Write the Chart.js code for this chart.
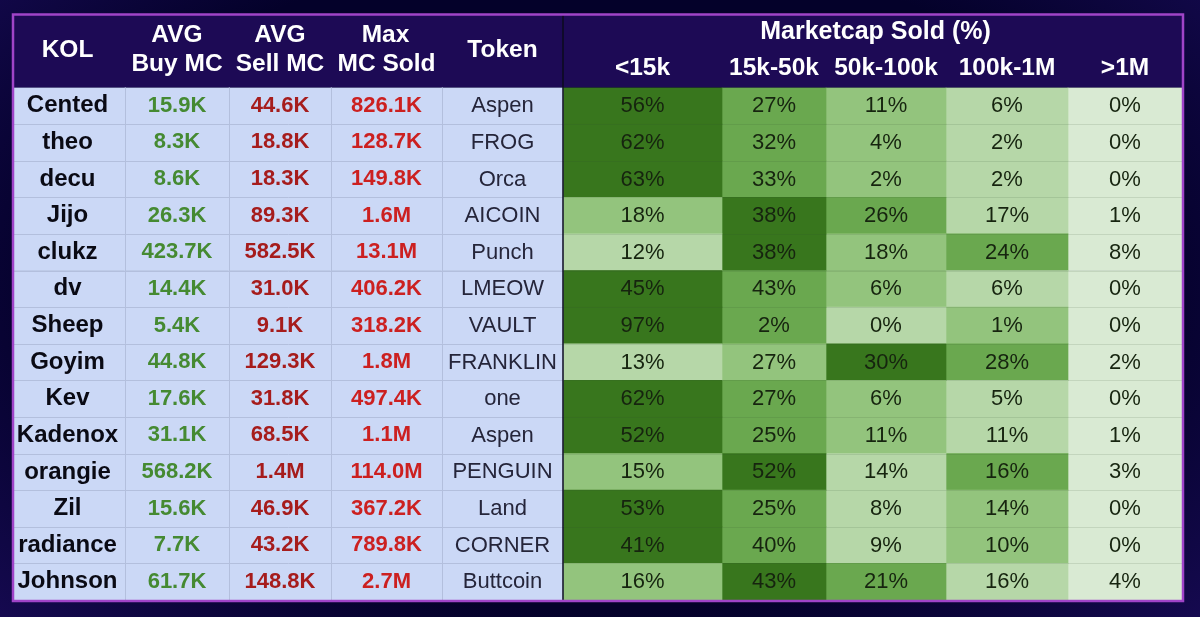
<!DOCTYPE html>
<html><head><meta charset="utf-8">
<script src="https://cdn.jsdelivr.net/npm/chart.js@4"></script>
<style>
html,body{margin:0;padding:0;width:1200px;height:617px;overflow:hidden;
background:radial-gradient(ellipse 75% 90% at 50% 45%,#04012a 60%,#120849 85%,#1b0b5c 100%);}
canvas{display:block;filter:blur(0.5px);}
</style></head><body>
<canvas id="c" width="1200" height="617"></canvas>
<script>
const kols=['Cented','theo','decu','Jijo','clukz','dv','Sheep','Goyim','Kev','Kadenox','orangie','Zil','radiance','Johnson'];
const avgBuyMC=['15.9K','8.3K','8.6K','26.3K','423.7K','14.4K','5.4K','44.8K','17.6K','31.1K','568.2K','15.6K','7.7K','61.7K'];
const avgSellMC=['44.6K','18.8K','18.3K','89.3K','582.5K','31.0K','9.1K','129.3K','31.8K','68.5K','1.4M','46.9K','43.2K','148.8K'];
const maxMCSold=['826.1K','128.7K','149.8K','1.6M','13.1M','406.2K','318.2K','1.8M','497.4K','1.1M','114.0M','367.2K','789.8K','2.7M'];
const tokens=['Aspen','FROG','Orca','AICOIN','Punch','LMEOW','VAULT','FRANKLIN','one','Aspen','PENGUIN','Land','CORNER','Buttcoin'];
const soldUnder15k=[56,62,63,18,12,45,97,13,62,52,15,53,41,16];
const sold15kTo50k=[27,32,33,38,38,43,2,27,27,25,52,25,40,43];
const sold50kTo100k=[11,4,2,26,18,6,0,30,6,11,14,8,9,21];
const sold100kTo1M=[6,2,2,17,24,6,1,28,5,11,16,14,10,16];
const soldOver1M=[0,0,0,1,8,0,0,2,0,1,3,0,0,4];
const binLabels=['<15k','15k-50k','50k-100k','100k-1M','>1M'];
const infoHeaders=[['KOL'],['AVG','Buy MC'],['AVG','Sell MC'],['Max','MC Sold'],['Token']];
const groupTitle='Marketcap Sold (%)';

/* layout of the table on the x scale */
const edges=[14,125,229,331,442,563,722,826,946,1068,1182];
const greens=['#38761d','#6aa84f','#93c47d','#b6d7a8','#d9ead3'];
const bins=[soldUnder15k,sold15kTo50k,sold50kTo100k,sold100kTo1M,soldOver1M];

/* each row's cells are shaded by their rank within the row */
function rankShade(col,row){
  const vals=bins.map(b=>b[row]);
  const order=vals.map((v,i)=>[v,i]).sort((a,b)=>b[0]-a[0]||a[1]-b[1]).map(p=>p[1]);
  return greens[order.indexOf(col)];
}
const span=i=>kols.map(()=>[edges[i],edges[i+1]]);
const datasets=[];
for(let i=0;i<5;i++) datasets.push({data:span(i),backgroundColor:'#cbd8f6',barPercentage:1,categoryPercentage:1,grouped:false,borderWidth:0});
bins.forEach((b,c)=>datasets.push({data:span(5+c),backgroundColor:kols.map((_,r)=>rankShade(c,r)),barPercentage:1,categoryPercentage:1,grouped:false,borderWidth:0}));

const FONT='"Liberation Sans", Arial, sans-serif';
const tablePlugin={id:'table',
  beforeDatasetsDraw(ch){
    const c=ch.ctx,a=ch.chartArea;
    c.save();c.fillStyle='#1d0a55';
    c.fillRect(a.left,15,a.right-a.left,a.top-15);c.restore();
  },
  afterDatasetsDraw(ch){
    const c=ch.ctx,a=ch.chartArea,x=ch.scales.x,y=ch.scales.y;
    const cx=i=>(x.getPixelForValue(edges[i])+x.getPixelForValue(edges[i+1]))/2;
    c.save();
    /* row separators */
    const split=x.getPixelForValue(edges[5]);
    for(let r=0;r<kols.length-1;r++){
      const yy=Math.round((y.getPixelForValue(r)+y.getPixelForValue(r+1))/2)+0.5;
      c.lineWidth=1;
      c.strokeStyle='#b3bfdd';c.beginPath();c.moveTo(a.left,yy);c.lineTo(split,yy);c.stroke();
      c.strokeStyle='rgba(50,80,50,0.13)';c.beginPath();c.moveTo(split,yy);c.lineTo(a.right,yy);c.stroke();
    }
    /* column separators */
    for(let i=1;i<5;i++){
      const xx=Math.round(x.getPixelForValue(edges[i]))+0.5;
      c.strokeStyle='#b3bfdd';c.lineWidth=1;c.beginPath();c.moveTo(xx,a.top);c.lineTo(xx,a.bottom);c.stroke();
    }
    c.strokeStyle='#0b0b1e';c.lineWidth=1.5;c.beginPath();c.moveTo(split,15);c.lineTo(split,a.bottom);c.stroke();
    /* outer frame */
    c.strokeStyle='#a044c8';c.lineWidth=2.5;c.strokeRect(a.left-1,14.5,a.right-a.left+2,a.bottom-14.5+1);
    /* header */
    c.textAlign='center';c.textBaseline='middle';c.fillStyle='#fff';c.font='bold 24.5px '+FONT;
    infoHeaders.forEach((h,i)=>{
      if(h.length===1) c.fillText(h[0],cx(i)-(i===0?2:0),50);
      else {c.fillText(h[0],cx(i)-(i===3?1:0),35);c.fillText(h[1],cx(i),64.5);}
    });
    c.font='bold 25px '+FONT;
    c.fillText(groupTitle,(x.getPixelForValue(edges[5])+x.getPixelForValue(edges[10]))/2+3,32);
    c.font='bold 24.5px '+FONT;
    binLabels.forEach((l,i)=>c.fillText(l,cx(5+i),68.5));
    /* cells */
    kols.forEach((k,r)=>{
      const yy=y.getPixelForValue(r);
      c.font='bold 24px '+FONT;c.fillStyle='#0a0a14';c.fillText(k,cx(0)-2,yy);
      c.font='bold 22px '+FONT;
      c.fillStyle='#458a32';c.fillText(avgBuyMC[r],cx(1),yy);
      c.fillStyle='#a61c1c';c.fillText(avgSellMC[r],cx(2),yy);
      c.fillStyle='#cc2020';c.fillText(maxMCSold[r],cx(3),yy);
      c.font='22px '+FONT;c.fillStyle='#25253a';c.fillText(tokens[r],cx(4),yy+0.5);
      c.fillStyle='#16240f';
      bins.forEach((b,i)=>c.fillText(b[r]+'%',cx(5+i),yy+0.5));
    });
    c.restore();
  }};

new Chart(document.getElementById('c'),{
  type:'bar',
  data:{labels:kols,datasets},
  plugins:[tablePlugin],
  options:{
    indexAxis:'y',responsive:false,animation:false,
    layout:{padding:{left:14,right:18,top:87.5,bottom:17}},
    plugins:{legend:{display:false},tooltip:{enabled:false},title:{display:false}},
    scales:{
      x:{type:'linear',min:edges[0],max:edges[10],display:false},
      y:{type:'category',display:false,offset:true}
    }
  }
});
</script>
</body></html>
